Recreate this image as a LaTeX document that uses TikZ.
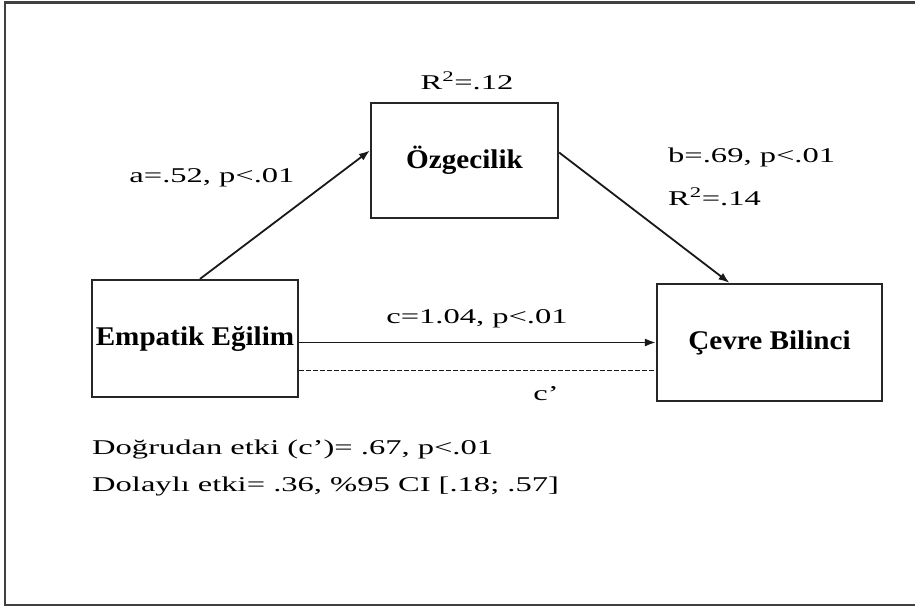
\documentclass[tikz,border=0pt]{standalone}
\usepackage{fontspec}
\setmainfont{Liberation Serif}
% wide serif for coefficients and notes, slightly widened bold for variables
\newfontfamily\labelfont[FakeStretch=1.55]{Liberation Serif}
\newfontfamily\boxfont[FakeStretch=1.08]{Liberation Serif}
\usetikzlibrary{arrows.meta,calc}

\tikzset{
  var/.style={draw=black!85, line width=2.2pt, inner sep=0pt,
    font=\boxfont\bfseries\fontsize{27}{32}\selectfont},
  lbl/.style={inner sep=0pt, font=\labelfont\fontsize{21}{25}\selectfont},
  effect/.style={line width=1.8pt, draw=black!90, -{Latex[length=11pt,width=8pt]}},
  direct/.style={line width=1.8pt, draw=black!90, dash pattern=on 4.5pt off 2.5pt},
  frame/.style={draw=black!75, line width=2.2pt}
}

\begin{document}
\begin{tikzpicture}[x=1pt,y=-1pt]
  \useasboundingbox (0,0) rectangle (915,608);
  \clip (0,0) rectangle (915,608);
  \fill[white] (0,0) rectangle (915,608);
  \draw[frame] (5,2.5) rectangle (925,605);

  % variables
  \node[var, minimum width=206pt, minimum height=117pt] (emp) at (195,338.5) {Empatik Eğilim};
  \node[var, minimum width=187pt, minimum height=115pt] (ozg) at (464.5,160.5) {Özgecilik};
  \node[var, minimum width=225pt, minimum height=117pt] (cev) at (769.5,342.5) {Çevre Bilinci};

  % paths
  \draw[effect] ($(emp.north)+(5,0)$) -- ($(ozg.west)+(0,-10)$);
  \draw[effect] ($(ozg.east)+(0,-8)$) -- ($(cev.north)+(-40,0)$);
  \draw[effect] (emp.east |- cev.west) -- (cev.west);
  \draw[direct] ($(emp.east |- cev.west)+(0,28)$) -- ($(cev.west)+(0,28)$);

  % coefficients
  \node[lbl] (r2m) at (467,81) {R\textsuperscript{2}=.12};
  \node[lbl] (la) at (212,178) {a=.52, p<.01};
  \node[lbl, anchor=west] (lb) at (668,157) {b=.69, p<.01};
  \node[lbl, anchor=west] (r2y) at (668,197) {R\textsuperscript{2}=.14};
  \node[lbl] (lc) at (477,319) {c=1.04, p<.01};
  \node[lbl] (lcp) at (546,394) {c’};

  % notes
  \node[lbl, anchor=base west] (n1) at (92,454) {Doğrudan etki (c’)= .67, p<.01};
  \node[lbl, anchor=base west] (n2) at (92,491) {Dolaylı etki= .36, \%95 CI [.18; .57]};
\end{tikzpicture}
\end{document}
